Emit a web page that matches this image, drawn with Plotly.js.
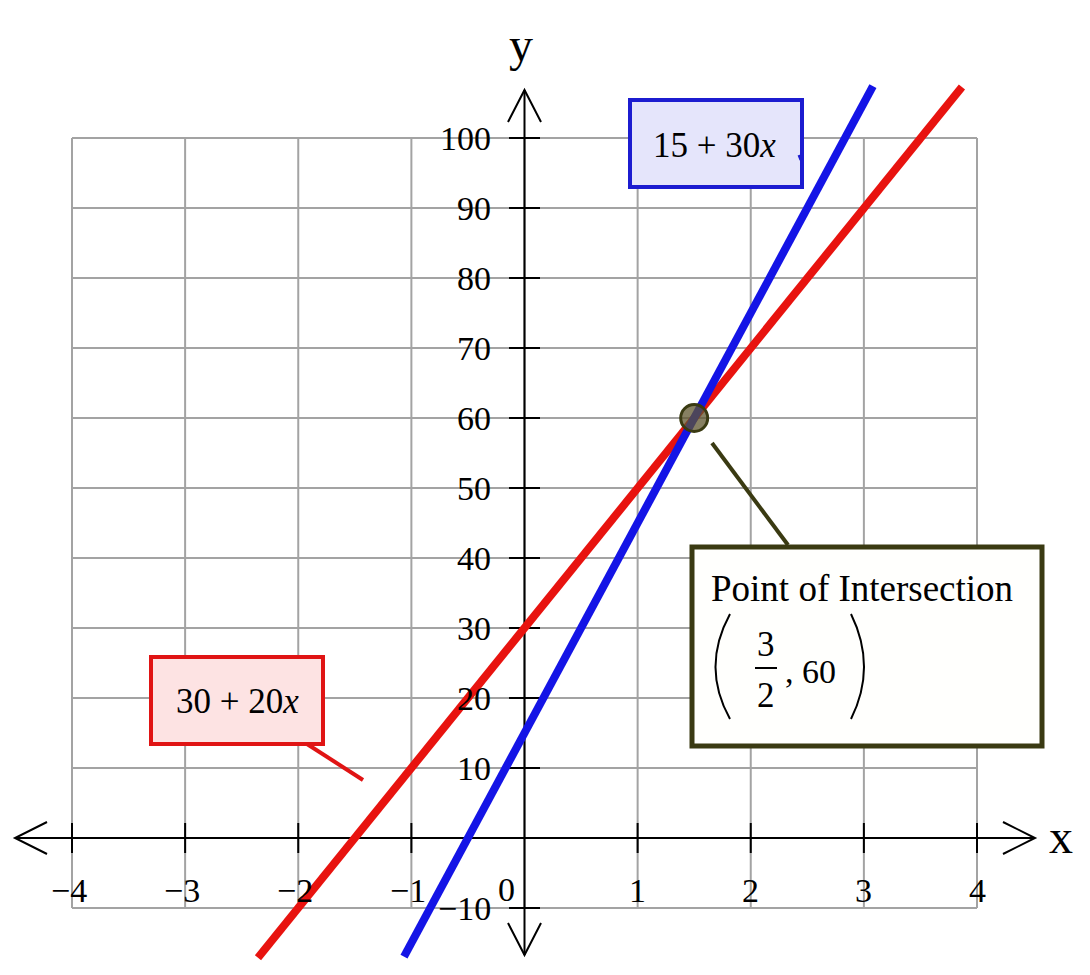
<!DOCTYPE html>
<html>
<head>
<meta charset="utf-8">
<script src="https://cdn.plot.ly/plotly-3.0.1.min.js"></script>
<style>html,body{margin:0;padding:0;background:#fff;}#chart{width:1090px;height:975px;}</style>
</head>
<body>
<div id="chart"></div>
<script>
// ---- data ----
const gridX = [-4, -3, -2, -1, 0, 1, 2, 3, 4];
const gridY = [-10, 0, 10, 20, 30, 40, 50, 60, 70, 80, 90, 100];
const xTicks = [-4, -3, -2, -1, 1, 2, 3, 4];
const xTickLabels = ["\u22124", "\u22123", "\u22122", "\u22121", "1", "2", "3", "4"];
const yTicks = [-10, 10, 20, 30, 40, 50, 60, 70, 80, 90, 100];
const yTickLabels = ["\u221210", "10", "20", "30", "40", "50", "60", "70", "80", "90", "100"];
const redX = [-2.356, 3.867];
const redY = [-17.1, 107.3];
const blueX = [-1.065, 3.08];
const blueY = [-16.95, 107.4];
const pointX = [1.5];
const pointY = [60];
const redLabel = "30 + 20<i>x</i>";
const blueLabel = "15 + 30<i>x</i>";
const pointTitle = "Point of Intersection";

// ---- pixel <-> data helpers (plot area = whole page) ----
const W = 1090, H = 975;
const PXU = 113.125, X0PX = 524.5;   // px per x unit, px of x=0
const PYU = 7.0, Y0PX = 838;          // px per y unit, px of y=0
const X = px => (px - X0PX) / PXU;
const Y = py => (Y0PX - py) / PYU;
const xRange = [X(0), X(W)];
const yRange = [Y(H), Y(0)];

const shapes = [];
const gridColor = "#a3a3a3";
gridX.forEach(v => shapes.push({type: "line", layer: "below", x0: v, x1: v, y0: gridY[0], y1: gridY[gridY.length - 1], line: {color: gridColor, width: 2}}));
gridY.forEach(v => shapes.push({type: "line", layer: "below", x0: gridX[0], x1: gridX[gridX.length - 1], y0: v, y1: v, line: {color: gridColor, width: 2}}));
// axes
const ax = {color: "#000", width: 2};
shapes.push({type: "line", layer: "below", x0: X(15), x1: X(1035), y0: 0, y1: 0, line: ax});
shapes.push({type: "line", layer: "below", x0: 0, x1: 0, y0: Y(90), y1: Y(955), line: ax});
// arrowheads
const vpath = pts => "M" + pts.map(p => X(p[0]) + "," + Y(p[1])).join(" L");
shapes.push({type: "path", layer: "below", path: vpath([[47, 822], [15, 838], [47, 854]]), line: ax});
shapes.push({type: "path", layer: "below", path: vpath([[1003, 822], [1035, 838], [1003, 854]]), line: ax});
shapes.push({type: "path", layer: "below", path: vpath([[508, 122], [524.5, 90], [541, 122]]), line: ax});
shapes.push({type: "path", layer: "below", path: vpath([[508, 923], [524.5, 955], [541, 923]]), line: ax});
// tick marks
xTicks.forEach(v => shapes.push({type: "line", layer: "below", x0: v, x1: v, y0: Y(823), y1: Y(853), line: ax}));
yTicks.forEach(v => shapes.push({type: "line", layer: "below", x0: X(509), x1: X(540), y0: v, y1: v, line: ax}));

// callouts
const olive = "#3a3a12";
shapes.push({type: "line", layer: "above", x0: X(307), y0: Y(744), x1: X(363), y1: Y(780), line: {color: "#e01414", width: 4}});
shapes.push({type: "rect", layer: "above", x0: X(151), y0: Y(657), x1: X(323), y1: Y(744), fillcolor: "#fde3e3", line: {color: "#e01414", width: 4}});
shapes.push({type: "rect", layer: "above", x0: X(630), y0: Y(100), x1: X(802), y1: Y(187), fillcolor: "#e5e5fb", line: {color: "#1c1cd0", width: 4}});
shapes.push({type: "line", layer: "above", x0: X(799), y0: Y(155), x1: X(801), y1: Y(160), line: {color: "#1c1cd0", width: 3}});
shapes.push({type: "line", layer: "above", x0: X(712), y0: Y(443), x1: X(788), y1: Y(545), line: {color: olive, width: 4}});
shapes.push({type: "rect", layer: "above", x0: X(692), y0: Y(547), x1: X(1042), y1: Y(746), fillcolor: "#fffffd", line: {color: olive, width: 5}});
// fraction bar and parentheses
shapes.push({type: "line", layer: "above", x0: X(755), x1: X(777), y0: Y(668), y1: Y(668), line: {color: "#000", width: 2}});
shapes.push({type: "path", layer: "above", path: "M" + X(730) + "," + Y(614) + " Q" + X(701) + "," + Y(667) + " " + X(730) + "," + Y(719), line: {color: "#000", width: 2}});
shapes.push({type: "path", layer: "above", path: "M" + X(851) + "," + Y(614) + " Q" + X(877) + "," + Y(667) + " " + X(851) + "," + Y(719), line: {color: "#000", width: 2}});

const serif = "Liberation Serif";
const annotations = [];
const txt = (x, y, text, size, xanchor, extra) => Object.assign({x: x, y: y, xref: "x", yref: "y", text: text, showarrow: false, xanchor: xanchor || "center", yanchor: "middle", font: {family: serif, size: size, color: "#000"}}, extra || {});
xTicks.forEach((v, i) => annotations.push(txt(v - (v < 0 ? 0.03 : 0), Y(890), xTickLabels[i], 34)));
yTicks.forEach((v, i) => annotations.push(txt(X(493), v, yTickLabels[i], 34, "right")));
annotations.push(txt(X(506), Y(889), "0", 34));
annotations.push(txt(X(1061), Y(836), "x", 48));
annotations.push(txt(X(521), Y(44), "y", 48));
annotations.push(txt(X(237), Y(701), redLabel, 35));
annotations.push(txt(X(714), Y(145), blueLabel, 35));
annotations.push(txt(X(709), Y(588), pointTitle, 37, "left"));
annotations.push(txt(X(766), Y(644), "3", 35));
annotations.push(txt(X(766), Y(695), "2", 35));
annotations.push(txt(X(783), Y(671), ", 60", 34, "left"));

const traces = [
  {x: redX, y: redY, mode: "lines", line: {color: "#e8130f", width: 8}, hoverinfo: "skip", name: "30 + 20x"},
  {x: blueX, y: blueY, mode: "lines", line: {color: "#1414e6", width: 8}, hoverinfo: "skip", name: "15 + 30x"},
  {x: pointX, y: pointY, mode: "markers", marker: {size: 27, color: "rgba(95,85,45,0.75)", line: {color: olive, width: 3}}, hoverinfo: "skip", name: "intersection"}
];

const layout = {
  width: W, height: H,
  margin: {l: 0, r: 0, t: 0, b: 0, pad: 0},
  paper_bgcolor: "#fff", plot_bgcolor: "#fff",
  showlegend: false,
  xaxis: {range: xRange, visible: false, showgrid: false, zeroline: false, fixedrange: true},
  yaxis: {range: yRange, visible: false, showgrid: false, zeroline: false, fixedrange: true},
  shapes: shapes,
  annotations: annotations
};
Plotly.newPlot("chart", traces, layout, {staticPlot: true, displayModeBar: false});
</script>
</body>
</html>
